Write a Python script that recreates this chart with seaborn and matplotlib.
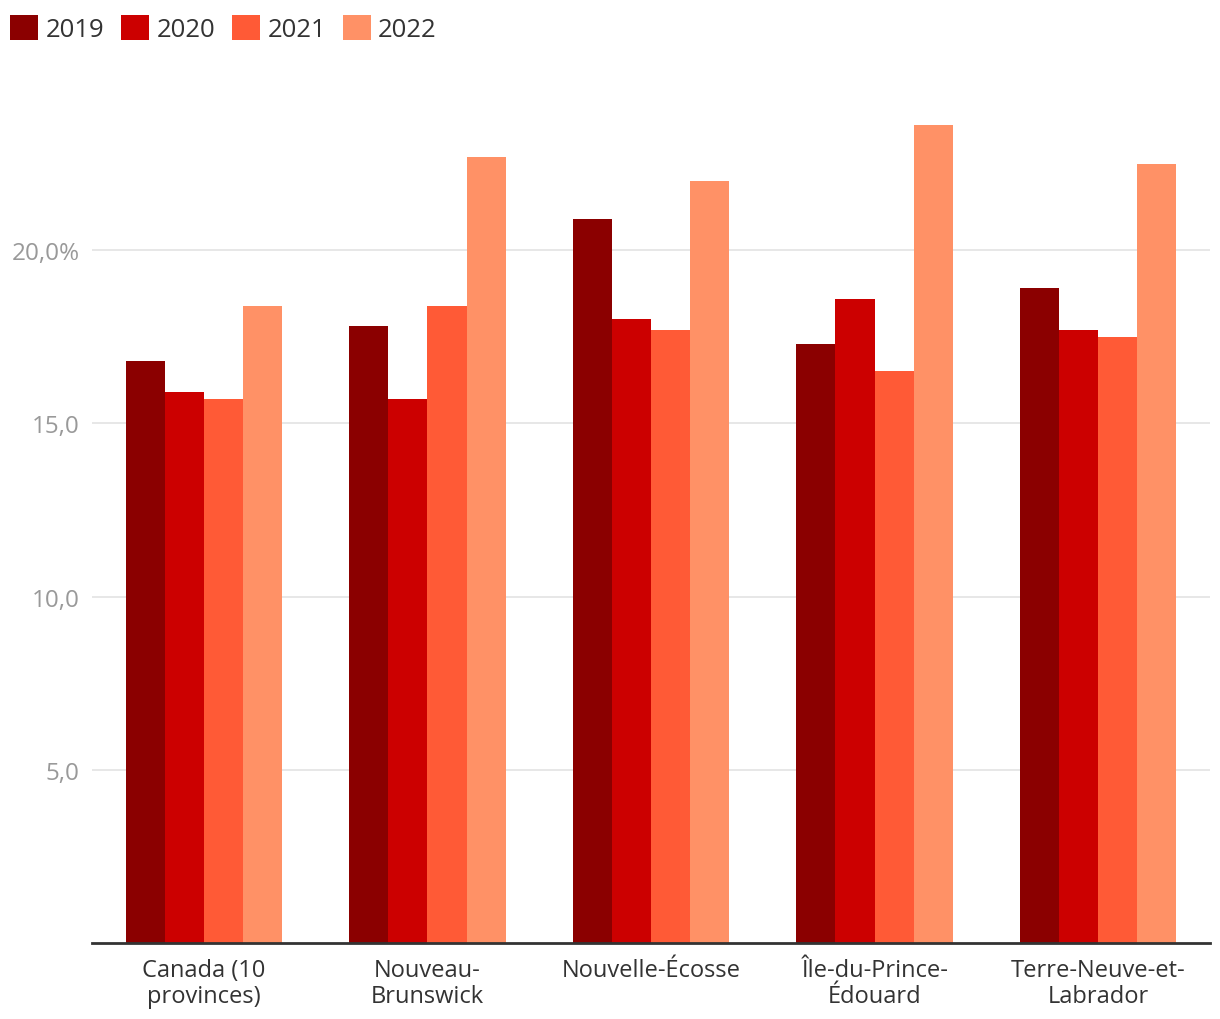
import matplotlib
matplotlib.use("Agg")
import matplotlib.pyplot as plt
import seaborn as sns
import pandas as pd

regions = ["Canada (10\nprovinces)", "Nouveau-\nBrunswick", "Nouvelle-Écosse",
           "Île-du-Prince-\nÉdouard", "Terre-Neuve-et-\nLabrador"]
years = ["2019", "2020", "2021", "2022"]
v2019 = [16.8, 17.8, 20.9, 17.3, 18.9]
v2020 = [15.9, 15.7, 18.0, 18.6, 17.7]
v2021 = [15.7, 18.4, 17.7, 16.5, 17.5]
v2022 = [18.4, 22.7, 22.0, 23.6, 22.5]
colors = ["#8B0000", "#CC0000", "#FF5A36", "#FF9166"]
ytick_vals = [5, 10, 15, 20]
ytick_labels = ["5,0", "10,0", "15,0", "20,0%"]

rows = []
for y, vals in zip(years, [v2019, v2020, v2021, v2022]):
    for r, v in zip(regions, vals):
        rows.append({"region": r, "year": y, "value": v})
df = pd.DataFrame(rows)

sns.set_theme(style="white")
plt.rcParams["font.family"] = ["Open Sans", "DejaVu Sans"]

fig = plt.figure(figsize=(12.2, 10.2), dpi=100)
ax = fig.add_axes([92/1220, 1 - 944/1020, (1210-92)/1220, (944-71)/1020])

sns.barplot(data=df, x="region", y="value", hue="year", palette=colors,
            width=0.7, saturation=1, ax=ax, gap=0, linewidth=0, errorbar=None)

ax.set_xlim(-0.5, 4.5)
ax.set_ylim(0, 25.2)
ax.set_yticks(ytick_vals)
ax.set_yticklabels(ytick_labels, color="#999999", fontsize=17.5)
ax.tick_params(axis="y", length=0, pad=9)
ax.tick_params(axis="x", length=0, pad=11, labelsize=17, labelcolor="#333333")
for lbl in ax.get_xticklabels():
    lbl.set_linespacing(1.1)
ax.yaxis.grid(True, color="#e3e3e3", linewidth=1.2)
ax.set_axisbelow(True)
for s in ["top", "right", "left"]:
    ax.spines[s].set_visible(False)
ax.spines["bottom"].set_color("#333333")
ax.spines["bottom"].set_linewidth(2)
ax.set_xlabel("")
ax.set_ylabel("")

handles, labels = ax.get_legend_handles_labels()
ax.legend_.remove()
fig.legend(handles, labels, loc="upper left", bbox_to_anchor=(0.0, 1 - 6/1020),
           ncol=4, frameon=False, fontsize=18.5, handlelength=1.08, handleheight=1.08,
           handletextpad=0.3, columnspacing=0.65, borderaxespad=0.2,
           borderpad=0.2, labelcolor="#333333")

fig.savefig("out.png", dpi=100)
